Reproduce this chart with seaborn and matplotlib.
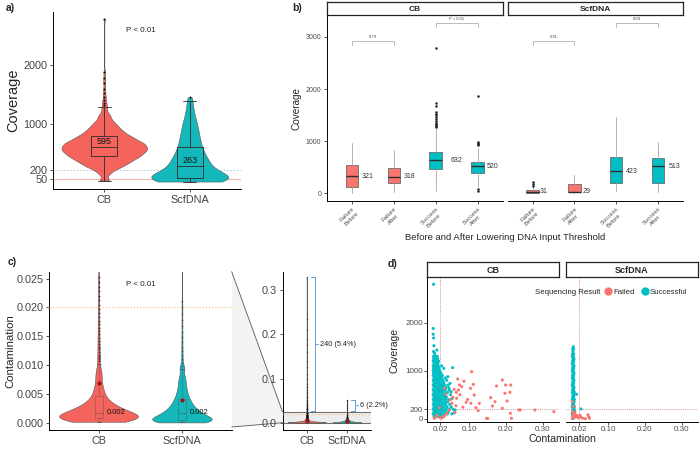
import numpy as np
import pandas as pd
import matplotlib.pyplot as plt
from matplotlib.lines import Line2D
from matplotlib.patches import Polygon
import seaborn as sns

GROUPS = ['CB', 'ScfDNA']

# ---------------- a) coverage per sample type ----------------
# quantiles (1%, 3%, ... 99%) + the outliers above the whisker
cb_cov_q = [25, 150, 221, 250, 279, 306, 325, 344, 363, 382, 401, 415, 428, 442, 456,
            470, 483, 498, 510, 521, 533, 545, 556, 568, 579, 591, 602, 614, 627, 639,
            651, 663, 675, 687, 699, 716, 732, 749, 766, 782, 799, 823, 848, 873, 898,
            932, 968, 1006, 1061, 1138]
cb_cov_out = [1210, 1230, 1260, 1290, 1320, 1360, 1400, 1450, 1520, 1600, 1700, 1780, 1880, 2800]
scf_cov_q = [8, 14, 19, 23, 28, 32, 37, 43, 48, 52, 57, 61, 64, 74, 85, 96, 107, 121, 136,
             150, 170, 190, 210, 232, 253, 274, 296, 318, 340, 362, 387, 412, 437, 465, 500,
             535, 570, 603, 645, 688, 730, 775, 825, 875, 930, 990, 1050, 1135, 1240, 1390]
scf_cov_out = [1450]
cov_medians = [595, 263]
cov_cutoffs = [50, 200]

# ---------------- b) before / after lowering the threshold ----------------
b_labels = ['Failure\nBefore', 'Failure\nAfter', 'Success\nBefore', 'Success\nAfter']
cb_b_q1 = [115, 192, 466, 396]
cb_b_med = [321, 318, 632, 520]
cb_b_q3 = [543, 480, 787, 607]
cb_b_lo = [0, 20, 44, 140]
cb_b_hi = [960, 831, 1240, 870]
cb_b_fliers = [[], [], [1270, 1290, 1310, 1330, 1350, 1380, 1420, 1460, 1500, 1530, 1560, 1670, 1740, 2780],
               [930, 950, 970, 990, 1870, 50, 75]]
scf_b_q1 = [12, 15, 192, 204]
scf_b_med = [31, 29, 423, 513]
scf_b_q3 = [63, 178, 703, 672]
scf_b_lo = [0, 0, 44, 30]
scf_b_hi = [110, 355, 1470, 990]
scf_b_fliers = [[140, 178, 223], [], [], []]
cb_b_pvals = ['0.79', 'P < 0.01']
scf_b_pvals = ['0.31', '0.69']
b_bracket_y = [2923, 3263]

# ---------------- c) contamination ----------------
# bulk quantiles (equal weight), values of the upper violin neck, and the long tail (> 0.026)
cb_cont_q = [0.00005, 0.00014, 0.00023, 0.00029, 0.00036, 0.00043, 0.0005, 0.00056, 0.00064,
             0.00072, 0.00079, 0.00087, 0.00095, 0.00103, 0.00112, 0.00121, 0.0013, 0.0014,
             0.0015, 0.00161, 0.00172, 0.00186, 0.00201, 0.00217, 0.00236, 0.00256, 0.00277,
             0.0030, 0.00324, 0.00361, 0.00403, 0.00458, 0.0053, 0.0061, 0.0073, 0.0086]
cb_cont_upper = [0.0094, 0.0098, 0.0102, 0.0106, 0.011, 0.0114, 0.0118, 0.0122, 0.0127, 0.0132,
                 0.0137, 0.0142, 0.0147, 0.0153, 0.0159, 0.0165, 0.0171, 0.0177, 0.0184, 0.0191,
                 0.0198, 0.0205, 0.0212, 0.022, 0.0228, 0.0236, 0.0244, 0.0252]
cb_cont_tail = [0.027, 0.028, 0.029, 0.030, 0.031, 0.032, 0.033, 0.034, 0.036, 0.037,
                0.039, 0.041, 0.043, 0.045, 0.047, 0.050, 0.052, 0.055, 0.058, 0.061,
                0.065, 0.069, 0.074, 0.080, 0.088, 0.098, 0.11, 0.125, 0.14, 0.16,
                0.175, 0.19, 0.21, 0.235, 0.33]
scf_cont_q = [0.00002, 0.00007, 0.00012, 0.00017, 0.00022, 0.00027, 0.00032, 0.00037, 0.00042,
              0.00046, 0.00053, 0.00064, 0.00075, 0.00086, 0.00098, 0.00111, 0.00125, 0.00139,
              0.00153, 0.00167, 0.00181, 0.0020, 0.00219, 0.00238, 0.0026, 0.00287, 0.00314,
              0.00342, 0.00376, 0.00415, 0.00453, 0.00507, 0.00564, 0.0063, 0.00712, 0.00793,
              0.00934]
scf_cont_upper = [0.0098, 0.0104, 0.011, 0.0117, 0.0124, 0.0132, 0.014, 0.0149, 0.0158, 0.0168,
                  0.0178, 0.0189, 0.020, 0.0211]
scf_cont_tail = [0.029, 0.033, 0.038, 0.043, 0.048, 0.052]
cont_means = [0.0068, 0.0039]
cont_medians = ['0.002', '0.002']
cont_cutoff = 0.02
tail_counts = [240, 6]
tail_pcts = [5.4, 2.2]

# ---------------- d) coverage vs contamination ----------------
# dense blocks: coverage -> contamination values
cb_ok_rows = {
    1300: [0.002, 0.007, 0.012], 1250: [0.002, 0.008, 0.013], 1200: [0.001, 0.006, 0.011, 0.016],
    1150: [0.003, 0.009, 0.014], 1100: [0.001, 0.005, 0.010, 0.015, 0.024],
    1050: [0.002, 0.007, 0.012, 0.017, 0.030], 1000: [0.001, 0.004, 0.009, 0.014, 0.019],
    950: [0.002, 0.007, 0.012, 0.017, 0.022], 900: [0.001, 0.005, 0.010, 0.015, 0.020, 0.026],
    850: [0.003, 0.008, 0.013, 0.018, 0.024, 0.034],
    800: [0.001, 0.006, 0.011, 0.016, 0.021, 0.028, 0.038],
    750: [0.003, 0.008, 0.013, 0.018, 0.023, 0.030],
    700: [0.001, 0.005, 0.010, 0.015, 0.020, 0.026, 0.033, 0.042],
    650: [0.003, 0.008, 0.013, 0.018, 0.023, 0.029, 0.036],
    600: [0.001, 0.006, 0.011, 0.016, 0.021, 0.027, 0.034, 0.045],
    550: [0.003, 0.008, 0.013, 0.018, 0.024, 0.031, 0.040],
    500: [0.001, 0.005, 0.010, 0.015, 0.020, 0.026, 0.033, 0.048],
    450: [0.003, 0.008, 0.013, 0.018, 0.023, 0.030, 0.037],
    400: [0.001, 0.006, 0.011, 0.016, 0.021, 0.028, 0.035, 0.043],
    350: [0.003, 0.008, 0.013, 0.018, 0.024, 0.032, 0.040],
    300: [0.001, 0.005, 0.010, 0.015, 0.020, 0.027, 0.035, 0.046],
    250: [0.003, 0.008, 0.013, 0.018, 0.024, 0.031, 0.039, 0.050],
    200: [0.001, 0.006, 0.011, 0.016, 0.022, 0.029, 0.037, 0.045, 0.055],
    150: [0.003, 0.008, 0.013, 0.019, 0.026, 0.034, 0.043],
    100: [0.001, 0.005, 0.010, 0.016, 0.023, 0.031, 0.040, 0.052],
    50: [0.003, 0.008, 0.014, 0.021, 0.028],
}
cb_ok_extra = [(0.002, 2800), (0.001, 1880), (0.001, 1760), (0.002, 1680), (0.003, 1520),
               (0.011, 1430), (0.002, 1400), (0.005, 1360), (0.054, 1063), (0.041, 875),
               (0.047, 737), (0.061, 181), (0.058, 120), (0.050, 560), (0.044, 640), (0.052, 420)]
cb_fail = [(0.106, 979), (0.111, 716), (0.068, 827), (0.073, 702), (0.079, 667), (0.070, 598),
           (0.064, 549), (0.065, 425), (0.074, 500), (0.091, 341), (0.103, 633), (0.113, 494),
           (0.104, 320), (0.127, 320), (0.124, 167), (0.147, 8), (0.150, 5), (0.163, 265),
           (0.158, 438), (0.170, 354), (0.174, 681), (0.190, 806), (0.199, 702), (0.213, 702),
           (0.197, 529), (0.211, 550), (0.203, 369), (0.190, 217), (0.212, 112), (0.215, 8),
           (0.235, 181), (0.239, 181), (0.279, 181), (0.331, 146), (0.036, 508), (0.047, 390),
           (0.052, 320), (0.063, 271), (0.029, 42), (0.020, 20), (0.011, 77), (0.038, 112),
           (0.017, 229), (0.032, 633), (0.055, 450), (0.058, 610), (0.085, 780), (0.118, 230),
           (0.082, 240), (0.045, 180), (0.025, 15), (0.008, 30), (0.004, 10), (0.033, 70),
           (0.060, 130), (0.095, 400)]
scf_ok_rows = {
    1500: [0.004], 1450: [0.002, 0.005], 1400: [0.003], 1350: [0.002, 0.005],
    1300: [0.001, 0.004], 1250: [0.003, 0.006], 1200: [0.002, 0.005], 1150: [0.001, 0.004],
    1100: [0.003, 0.006], 1050: [0.002, 0.005], 1000: [0.001, 0.004], 950: [0.003, 0.006],
    900: [0.002, 0.005], 850: [0.001, 0.004], 800: [0.003, 0.006], 750: [0.002, 0.005],
    700: [0.001, 0.004], 650: [0.003, 0.006], 600: [0.002, 0.005], 550: [0.001, 0.004, 0.007],
    500: [0.003, 0.006], 450: [0.002, 0.005], 400: [0.001, 0.004, 0.007], 350: [0.003, 0.006],
    300: [0.002, 0.005], 250: [0.001, 0.004, 0.007], 200: [0.003, 0.006],
    150: [0.002, 0.005, 0.008], 100: [0.001, 0.004, 0.007], 50: [0.003, 0.006], 10: [0.002, 0.005],
}
scf_ok_extra = [(0.013, 508), (0.025, 202)]
scf_fail = [(0.001, 354), (0.004, 250), (0.002, 150), (0.005, 100), (0.003, 60), (0.006, 30),
            (0.001, 10), (0.008, 120), (0.010, 80), (0.012, 40), (0.015, 60), (0.018, 20),
            (0.030, 8), (0.037, 0), (0.046, 42), (0.048, 8), (0.044, 80), (0.025, 30), (0.022, 70)]
d_cutoffs = (0.02, 200)

# ---------------- style ----------------
RED, TEAL = '#F8766D', '#00BFC4'
RED_V, TEAL_V = '#F4645D', '#14B7BA'
sns.set_theme(style='ticks')
plt.rcParams['font.family'] = ['Liberation Sans', 'DejaVu Sans']
plt.rcParams['axes.linewidth'] = 0.7

W, H = 700, 449
fig = plt.figure(figsize=(7, 4.49), dpi=100)


def add_ax(l, t, r, b):
    return fig.add_axes([l / W, 1 - b / H, (r - l) / W, (b - t) / H])


def fpx(x, y):
    return x / W, 1 - y / H


def style(ax, size, color='#444444'):
    sns.despine(ax=ax)
    ax.tick_params(labelsize=size, labelcolor=color, color='#333333', length=2.5, width=0.6, pad=1.5)
    for s in ax.spines.values():
        s.set_color('black')
        s.set_linewidth(0.7)
    ax.set_xlabel('')
    ax.set_ylabel('')


def strip(l, t, r, b, label, size):
    sa = add_ax(l, t, r, b)
    sa.set_xticks([])
    sa.set_yticks([])
    sa.set_facecolor('white')
    for s in sa.spines.values():
        s.set_visible(True)
        s.set_color('#222222')
        s.set_linewidth(0.9)
    sa.text(0.5, 0.45, label, ha='center', va='center', fontsize=size, fontweight='bold',
            transform=sa.transAxes)


def violins(ax, sets, widths, bws, grids):
    for g, vals, wd, bw, gs, col in zip(GROUPS, sets, widths, bws, grids, [RED_V, TEAL_V]):
        sns.violinplot(x=[g] * len(vals), y=vals, order=GROUPS, color=col, saturation=1, cut=0,
                       bw_adjust=bw, gridsize=gs, width=wd, density_norm='width', inner=None,
                       linewidth=0.4, linecolor='#555555', ax=ax)


# ---------------- a) ----------------
cb_cov = np.concatenate([np.repeat(cb_cov_q, 6), cb_cov_out])
scf_cov = np.concatenate([np.repeat(scf_cov_q, 6), scf_cov_out])
cov_df = pd.DataFrame({'type': ['CB'] * len(cb_cov) + ['ScfDNA'] * len(scf_cov),
                       'cov': np.concatenate([cb_cov, scf_cov])})
axa = add_ax(53, 12, 241, 189)
axa.axhline(cov_cutoffs[0], color='#F8766D', alpha=0.55, lw=0.8, zorder=0)
axa.axhline(cov_cutoffs[1], color='#9cc7c7', ls=(0, (2, 2)), lw=0.6, zorder=0)
violins(axa, [cb_cov, scf_cov], [1.0, 0.9], [0.45, 0.85], [300, 300])
sns.boxplot(data=cov_df, x='type', y='cov', order=GROUPS, width=0.3, fill=False, color='#2b2b2b',
            linewidth=0.6, fliersize=1.4,
            flierprops={'marker': 'o', 'markerfacecolor': 'black', 'markeredgecolor': 'none'}, ax=axa)
for i, m in enumerate(cov_medians):
    axa.text(i, m + 20, str(m), ha='center', va='bottom', fontsize=6.5, color='#111111')
axa.text(0.43, 2600, 'P < 0.01', ha='center', va='center', fontsize=5.8, color='#222222')
axa.set_xlim(-0.6, 1.6)
axa.set_ylim(-120, 2915)
axa.set_yticks([50, 200, 1000, 2000])
style(axa, 7.8)
axa.set_ylabel('Coverage', fontsize=10.5, labelpad=2)

# ---------------- b) ----------------
b_dx = [[0.37, 0.38, 0.5, 0.37], [0.27, 0.28, 0.38, 0.39]]
facets_b = [
    ('CB', cb_b_q1, cb_b_med, cb_b_q3, cb_b_lo, cb_b_hi, cb_b_fliers, cb_b_pvals, 327, 502.6),
    ('ScfDNA', scf_b_q1, scf_b_med, scf_b_q3, scf_b_lo, scf_b_hi, scf_b_fliers, scf_b_pvals, 507.6, 683),
]
for k, (name, q1, med, q3, lo, hi, fl, pv, l, r) in enumerate(facets_b):
    ax = add_ax(l, 15, r, 201)
    stats = [dict(q1=a, med=m, q3=c, whislo=w0, whishi=w1, fliers=f)
             for a, m, c, w0, w1, f in zip(q1, med, q3, lo, hi, fl)]
    bp = ax.bxp(stats, positions=range(len(b_labels)), widths=0.3, patch_artist=True, showcaps=False,
                boxprops=dict(edgecolor='#6b6b6b', linewidth=0.6),
                medianprops=dict(color='#2e2e2e', linewidth=1.0),
                whiskerprops=dict(color='#a8a8a8', linewidth=0.6),
                flierprops=dict(marker='o', markersize=1.8, markerfacecolor='#222222',
                                markeredgecolor='none'))
    for patch, lab in zip(bp['boxes'], b_labels):
        patch.set_facecolor(RED if lab.startswith('Failure') else TEAL)
    for i, m in enumerate(med):
        ax.text(i + b_dx[k][i], m, str(m), ha='center', va='center', fontsize=5, color='#333333')
    for j, (p, yb) in enumerate(zip(pv, b_bracket_y)):
        x0, x1 = 2 * j, 2 * j + 1
        ax.plot([x0, x0, x1, x1], [yb - 80, yb, yb, yb - 80], color='#a0a0a0', lw=0.5)
        ax.text((x0 + x1) / 2, yb + 45, p, ha='center', va='bottom', fontsize=3, color='#444444')
    ax.set_xlim(-0.6, 3.6)
    ax.set_ylim(-150, 3422)
    ax.set_yticks([0, 1000, 2000, 3000])
    ax.set_xticks(range(len(b_labels)))
    ax.set_xticklabels(b_labels, rotation=45, ha='right', rotation_mode='anchor')
    for t in ax.get_xticklabels():
        t.set_multialignment('center')
    style(ax, 5, '#4d4d4d')
    ax.tick_params(axis='x', labelsize=4.3)
    if k == 1:
        ax.spines['left'].set_visible(False)
        ax.tick_params(axis='y', left=False, labelleft=False)
    strip(l, 2, r, 15, name, 6)
fig.text(*fpx(297, 108), 'Coverage', rotation=90, ha='center', va='center', fontsize=7.2)
fig.text(*fpx(505, 237.5), 'Before and After Lowering DNA Input Threshold', ha='center',
         va='center', fontsize=6.8)

# ---------------- c) ----------------
cb_cont = np.concatenate([np.repeat(cb_cont_q, 16), np.repeat(cb_cont_upper, 2), cb_cont_tail])
scf_cont = np.concatenate([np.repeat(scf_cont_q, 7), scf_cont_upper, scf_cont_tail])
cont_df = pd.DataFrame({'type': ['CB'] * len(cb_cont) + ['ScfDNA'] * len(scf_cont),
                        'contam': np.concatenate([cb_cont, scf_cont])})
tails = [cb_cont_tail, scf_cont_tail]


def contam_layer(ax):
    violins(ax, [cb_cont, scf_cont], [0.95, 0.72], [0.12, 0.3], [3000, 800])
    sns.boxplot(data=cont_df, x='type', y='contam', order=GROUPS, width=0.1, fill=False,
                color='#4a4a4a', linewidth=0.5, fliersize=1.2,
                boxprops={'alpha': 0.5}, whiskerprops={'alpha': 0.5}, medianprops={'alpha': 0.6},
                flierprops={'marker': 'o', 'markerfacecolor': 'black', 'markeredgecolor': 'none',
                            'alpha': 0.4}, ax=ax)
    ax.scatter(range(len(GROUPS)), cont_means, s=9, color='#A01010', zorder=6, linewidths=0)
    ax.axhline(cont_cutoff, color='#F9C98F', ls=(0, (1, 1.5)), lw=0.9, zorder=5)
    ax.set_xlim(-0.6, 1.6)


axc = add_ax(49.3, 271.7, 231.7, 430)
contam_layer(axc)
for i, m in enumerate(cont_medians):
    axc.text(i + 0.09, 0.0018, m, ha='left', va='center', fontsize=5.5, color='#111111')
axc.text(0.5, 0.024, 'P < 0.01', ha='center', va='center', fontsize=5.8, color='#222222')
axc.set_ylim(-0.0013, 0.0262)
axc.set_yticks([0, 0.005, 0.01, 0.015, 0.02, 0.025])
axc.set_yticklabels([f'{v:.3f}' for v in [0, 0.005, 0.01, 0.015, 0.02, 0.025]])
style(axc, 7.8)
axc.set_ylabel('Contamination', fontsize=8.2, labelpad=1)

axi = add_ax(282.5, 272, 371.2, 430)
axi.axhspan(0, 0.025, color='#ececec', zorder=0)
contam_layer(axi)
axi.axhline(0, color='#555555', lw=0.6, zorder=7)
axi.axhline(0.025, color='#555555', lw=0.6, zorder=7)
for i, (tl, n, p) in enumerate(zip(tails, tail_counts, tail_pcts)):
    xb, lo, hi = i + 0.2, 0.026, max(tl)
    mid = (lo + hi) / 2
    axi.plot([xb - 0.1, xb, xb, xb - 0.1], [hi, hi, lo, lo], color='#5BA3DD', lw=0.7, zorder=8)
    axi.plot([xb, xb + 0.08], [mid, mid], color='#5BA3DD', lw=0.7, zorder=8)
    axi.text(xb + 0.13, mid, f'{n} ({p}%)', ha='left', va='center', fontsize=5.3, color='#222222')
axi.set_ylim(-0.0165, 0.341)
axi.set_yticks([0, 0.1, 0.2, 0.3])
axi.set_yticklabels(['0.0', '0.1', '0.2', '0.3'])
style(axi, 7.8)

# zoom connector between the two c panels
zoom_poly = [fpx(231.7, 271.7), fpx(282.5, 411.7), fpx(282.5, 422.7), fpx(231.7, 427)]
fig.add_artist(Polygon(zoom_poly, closed=True, transform=fig.transFigure, fc='#f3f3f3',
                       ec='none', zorder=-1))
for (x0, y0), (x1, y1) in [(zoom_poly[0], zoom_poly[1]), (zoom_poly[3], zoom_poly[2])]:
    fig.add_artist(Line2D([x0, x1], [y0, y1], transform=fig.transFigure, color='#555555', lw=0.6))

# ---------------- d) ----------------
recs = []
for facet, rows, extra, fail in [('CB', cb_ok_rows, cb_ok_extra, cb_fail),
                                 ('ScfDNA', scf_ok_rows, scf_ok_extra, scf_fail)]:
    for cov, xs in rows.items():
        recs += [(facet, x, cov, 'Successful') for x in xs]
    recs += [(facet, x, cov, 'Successful') for x, cov in extra]
    recs += [(facet, x, cov, 'Failed') for x, cov in fail]
d_df = pd.DataFrame(recs, columns=['facet', 'contam', 'cov', 'result'])

for k, (name, l, r) in enumerate([('CB', 427, 559), ('ScfDNA', 566, 698)]):
    ax = add_ax(l, 277, r, 422)
    ax.axvline(d_cutoffs[0], color='#D07070', ls=(0, (1, 1.5)), lw=0.6, zorder=0)
    ax.axhline(d_cutoffs[1], color='#D07070', ls=(0, (1, 1.5)), lw=0.6, zorder=0)
    sns.scatterplot(data=d_df[d_df.facet == name], x='contam', y='cov', hue='result',
                    palette={'Failed': RED, 'Successful': TEAL}, s=5, linewidth=0, legend=False,
                    ax=ax)
    ax.set_xlim(-0.016, 0.345)
    ax.set_ylim(-69, 2952)
    ax.set_xticks([0.02, 0.1, 0.2, 0.3])
    ax.set_xticklabels(['0.02', '0.10', '0.20', '0.30'])
    ax.set_yticks([0, 200, 1000, 2000])
    style(ax, 5.8, '#4d4d4d')
    ax.tick_params(length=2, pad=1)
    if k == 1:
        ax.spines['left'].set_visible(False)
        ax.tick_params(axis='y', left=False, labelleft=False)
    strip(l, 262, r, 277, name, 6.5)
fig.text(*fpx(395, 350), 'Coverage', rotation=90, ha='center', va='center', fontsize=7.5)
fig.text(*fpx(562, 439), 'Contamination', ha='center', va='center', fontsize=7.6)
fig.text(*fpx(535, 292), 'Sequencing Result', ha='left', va='center', fontsize=5.6, color='#222222')
handles = [Line2D([], [], marker='o', ls='', color=RED, ms=5, label='Failed'),
           Line2D([], [], marker='o', ls='', color=TEAL, ms=5, label='Successful')]
fig.legend(handles=handles, loc='center left', bbox_to_anchor=fpx(603, 292), ncol=2,
           frameon=False, fontsize=5.6, handletextpad=0.1, columnspacing=0.7, borderpad=0,
           borderaxespad=0, handlelength=1.2)

# panel letters
for lab, (x, y) in zip(['a)', 'b)', 'c)', 'd)'], [(10, 8), (297, 8), (12, 262), (392, 264)]):
    fig.text(*fpx(x, y), lab, ha='center', va='center', fontsize=7.5, fontweight='bold')

fig.savefig('out.png', dpi=100)
